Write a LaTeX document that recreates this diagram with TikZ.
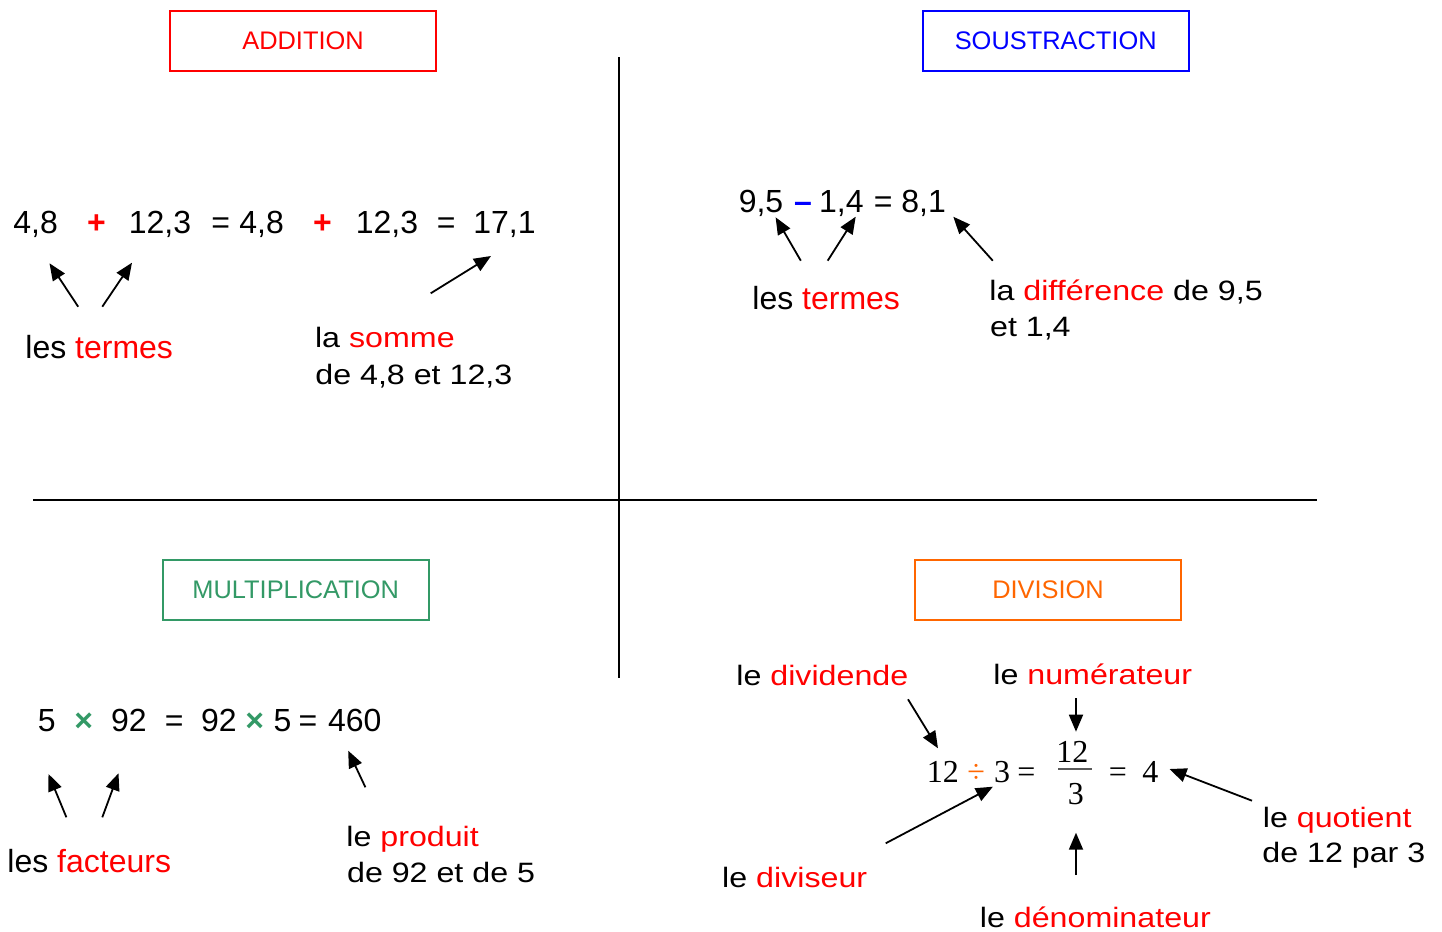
\documentclass[tikz,border=0pt]{standalone}
\usepackage{fontspec}
\setmainfont{Liberation Sans}
\newfontfamily\widefont[FakeStretch=1.15]{Liberation Sans}
\newfontfamily\serifmath{Liberation Serif}
\usetikzlibrary{arrows.meta}

\definecolor{subblue}{RGB}{0,0,255}
\definecolor{mulgreen}{RGB}{51,153,102}
\definecolor{divorange}{RGB}{255,102,0}

\tikzset{
  lbl/.style={anchor=base west, inner sep=0pt, font=\fontsize{16}{19}\selectfont},
  wlbl/.style={anchor=base west, inner sep=0pt, font=\widefont\fontsize{14}{17}\selectfont},
  eq/.style={anchor=base west, inner sep=0pt, font=\fontsize{16}{19}\selectfont},
  op/.style={anchor=base west, inner sep=0pt, font=\bfseries\fontsize{16}{19}\selectfont},
  dv/.style={anchor=base west, inner sep=0pt, font=\serifmath\fontsize{16}{19}\selectfont},
  titlebox/.style={draw, line width=1pt, minimum width=133pt, minimum height=30pt,
    inner sep=0pt, font=\fontsize{12.7}{15}\selectfont},
  arr/.style={-{Triangle[length=8.5pt,width=7pt]}, line width=0.9pt},
}

\begin{document}
\begin{tikzpicture}[x=0.5pt, y=-0.5pt]
  \fill[white] (0,0) rectangle (1442,932);
  \useasboundingbox (0,0) rectangle (1442,932);

  % Croix de séparation
  \draw[line width=0.8pt] (619,57) -- (619,678);
  \draw[line width=0.8pt] (33,500) -- (1317,500);

  % Titres
  \node[titlebox, draw=red, text=red] (tadd) at (303,41) {ADDITION};
  \node[titlebox, draw=subblue, text=subblue] (tsub) at (1055.7,41) {SOUSTRACTION};
  \node[titlebox, draw=mulgreen, text=mulgreen] (tmul) at (295.7,589.5) {MULTIPLICATION};
  \node[titlebox, draw=divorange, text=divorange] (tdiv) at (1048,589.5) {DIVISION};

  % Addition
  \node[eq] (a1) at (13,233) {4,8};
  \node[op, text=red] (ap1) at (86.7,233) {+};
  \node[eq] (a2) at (128.5,233) {12,3};
  \node[eq] (aeq1) at (211,233) {=};
  \node[eq] (a3) at (239,233) {4,8};
  \node[op, text=red] (ap2) at (312.7,233) {+};
  \node[eq] (a4) at (355.5,233) {12,3};
  \node[eq] (aeq2) at (436.5,233) {=};
  \node[eq] (asum) at (473,233) {17,1};
  \node[lbl] (atermes) at (25,358) {les \textcolor{red}{termes}};
  \node[wlbl] (asomme) at (314.7,347) {la \textcolor{red}{somme}};
  \node[wlbl] (asomme2) at (315,384) {de 4,8 et 12,3};
  \coordinate (ta1) at (78.2,306.7);  \coordinate (ha1) at (49.5,263.3);
  \coordinate (ta2) at (102.3,306.7); \coordinate (ha2) at (132,262.7);
  \coordinate (ta3) at (430.7,293.3); \coordinate (ha3) at (491,256);
  \draw[arr] (ta1) -- (ha1);
  \draw[arr] (ta2) -- (ha2);
  \draw[arr] (ta3) -- (ha3);

  % Soustraction
  \node[eq] (s1) at (738.4,212) {9,5};
  \node[op, text=subblue] (sm) at (793.6,212) {–};
  \node[eq] (s2) at (818.8,212) {1,4};
  \node[eq] (seq) at (873.5,212) {=};
  \node[eq] (sdif) at (901,212) {8,1};
  \node[lbl] (stermes) at (752,309) {les \textcolor{red}{termes}};
  \node[wlbl] (sdiff) at (989,300) {la \textcolor{red}{différence} de 9,5};
  \node[wlbl] (sdiff2) at (989.7,336) {et 1,4};
  \coordinate (ts1) at (800.8,260.7); \coordinate (hs1) at (775.6,217.3);
  \coordinate (ts2) at (827.7,260.7); \coordinate (hs2) at (855.7,216.7);
  \coordinate (ts3) at (992.8,260.7); \coordinate (hs3) at (953.3,216.7);
  \draw[arr] (ts1) -- (hs1);
  \draw[arr] (ts2) -- (hs2);
  \draw[arr] (ts3) -- (hs3);

  % Multiplication
  \node[eq] (m1) at (37.5,731) {5};
  \node[op, text=mulgreen] (mx1) at (74,731) {×};
  \node[eq] (m2) at (110.7,731) {92};
  \node[eq] (meq1) at (164.5,731) {=};
  \node[eq] (m3) at (200.7,731) {92};
  \node[op, text=mulgreen] (mx2) at (245,731) {×};
  \node[eq] (m4) at (273.3,731) {5};
  \node[eq] (meq2) at (298.2,731) {=};
  \node[eq] (mprod) at (327.6,731) {460};
  \node[lbl] (mfact) at (7,872) {les \textcolor{red}{facteurs}};
  \node[wlbl] (mproduit) at (346,846) {le \textcolor{red}{produit}};
  \node[wlbl] (mproduit2) at (346.7,882) {de 92 et de 5};
  \coordinate (tm1) at (66.4,817.3);  \coordinate (hm1) at (48.5,774);
  \coordinate (tm2) at (102.3,817.3); \coordinate (hm2) at (118.5,773.3);
  \coordinate (tm3) at (365.4,787.3); \coordinate (hm3) at (348.2,750.7);
  \draw[arr] (tm1) -- (hm1);
  \draw[arr] (tm2) -- (hm2);
  \draw[arr] (tm3) -- (hm3);

  % Division
  \node[dv] (d1) at (926.4,782) {12};
  \node[dv, text=divorange] (dsym) at (967,782) {÷};
  \node[dv] (d2) at (993.6,782) {3};
  \node[dv] (deq1) at (1017,782) {=};
  \node[dv] (dnum) at (1056,762) {12};
  \node[dv] (dden) at (1067.5,804) {3};
  \draw[line width=1.2pt, black!65] (1058,769) -- (1092,769);
  \node[dv] (deq2) at (1108.5,782) {=};
  \node[dv] (dquo) at (1142,782) {4};
  \node[wlbl] (ldividende) at (736,685) {le \textcolor{red}{dividende}};
  \node[wlbl] (lnum) at (993,684.3) {le \textcolor{red}{numérateur}};
  \node[wlbl] (ldiviseur) at (721.8,887.3) {le \textcolor{red}{diviseur}};
  \node[wlbl] (lden) at (979.5,927.3) {le \textcolor{red}{dénominateur}};
  \node[wlbl] (lquo) at (1262.5,827.3) {le \textcolor{red}{quotient}};
  \node[wlbl] (lquo2) at (1262,862.7) {de 12 par 3};
  \coordinate (td1) at (908,699.3);    \coordinate (hd1) at (938,748.3);
  \coordinate (td2) at (1076,698.3);   \coordinate (hd2) at (1076,731.7);
  \coordinate (td3) at (885.7,843.3);  \coordinate (hd3) at (992.9,786.7);
  \coordinate (td4) at (1076,875);     \coordinate (hd4) at (1076,832.7);
  \coordinate (td5) at (1252,800.7);   \coordinate (hd5) at (1169.5,769);
  \draw[arr] (td1) -- (hd1);
  \draw[arr] (td2) -- (hd2);
  \draw[arr] (td3) -- (hd3);
  \draw[arr] (td4) -- (hd4);
  \draw[arr] (td5) -- (hd5);
\end{tikzpicture}
\end{document}
